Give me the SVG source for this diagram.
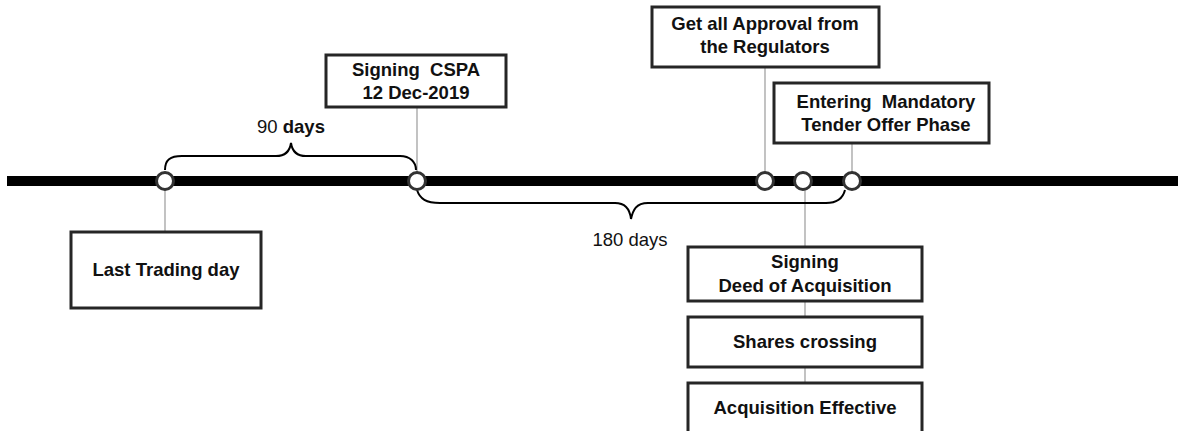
<svg xmlns="http://www.w3.org/2000/svg" width="1178" height="431" viewBox="0 0 1178 431">
<style>
.box{fill:#fff;stroke:#262626;stroke-width:3}
.lbl{font-family:"Liberation Sans",Arial,sans-serif;font-size:18.5px;font-weight:bold;fill:#111;text-anchor:middle}
.reg{font-family:"Liberation Sans",Arial,sans-serif;font-size:18.5px;fill:#111;text-anchor:middle}
.conn{stroke:#9a9a9a;stroke-width:1.2;fill:none}
.brace{stroke:#000;stroke-width:2;fill:none}
.dot{fill:#fff;stroke:#333;stroke-width:3}
</style>
<rect width="1178" height="431" fill="#fff"/>
<g id="connectors">
<line class="conn" x1="165" y1="190" x2="165" y2="232"/>
<line class="conn" x1="417" y1="107" x2="417" y2="172"/>
<line class="conn" x1="765" y1="67" x2="765" y2="172"/>
<line class="conn" x1="852" y1="143" x2="852" y2="172"/>
<line class="conn" x1="805" y1="190" x2="805" y2="247"/>
<line class="conn" x1="805" y1="301" x2="805" y2="317"/>
<line class="conn" x1="805" y1="367" x2="805" y2="383"/>
<path class="brace" d="M165,170 C165,160 170,156 182,156 L276,156 C286,156 290,150 291,143 C292,150 296,156 306,156 L400,156 C410,156 416,162 416,170"/>
<path class="brace" d="M417,190 C420,199 426,203 440,203 L615,203 C626,203 630,210 631,219 C633,210 636,203 648,203 L826,203 C838,203 843,198 845,190"/>
</g>
<rect id="timeline" x="7" y="176" width="1171" height="10" fill="#000"/>
<g id="dots">
<circle class="dot" cx="165" cy="181" r="8.5"/>
<circle class="dot" cx="417" cy="181" r="8.5"/>
<circle class="dot" cx="765" cy="181" r="8.5"/>
<circle class="dot" cx="803" cy="181" r="8.5"/>
<circle class="dot" cx="852" cy="181" r="8.5"/>
</g>
<g id="span90"><text class="reg" x="291" y="133">90 <tspan font-weight="bold">days</tspan></text></g>
<g id="span180"><text class="reg" x="630" y="246">180 days</text></g>
<g id="last-trading">
<rect class="box" x="71" y="232" width="190" height="76"/>
<text class="lbl" x="166" y="276">Last Trading day</text>
</g>
<g id="signing-cspa">
<rect class="box" x="326" y="55" width="180" height="52"/>
<text class="lbl" x="416" y="76" xml:space="preserve">Signing  CSPA</text>
<text class="lbl" x="416" y="99">12 Dec-2019</text>
</g>
<g id="approval">
<rect class="box" x="652" y="7" width="227" height="60"/>
<text class="lbl" x="765" y="30">Get all Approval from</text>
<text class="lbl" x="765" y="53">the Regulators</text>
</g>
<g id="mandatory">
<rect class="box" x="774" y="83" width="215" height="60"/>
<text class="lbl" x="886" y="108" xml:space="preserve">Entering  Mandatory</text>
<text class="lbl" x="886" y="131">Tender Offer Phase</text>
</g>
<g id="deed">
<rect class="box" x="688" y="247" width="234" height="54"/>
<text class="lbl" x="805" y="268">Signing</text>
<text class="lbl" x="805" y="292">Deed of Acquisition</text>
</g>
<g id="shares">
<rect class="box" x="688" y="317" width="234" height="50"/>
<text class="lbl" x="805" y="348">Shares crossing</text>
</g>
<g id="effective">
<rect class="box" x="688" y="383" width="234" height="60"/>
<text class="lbl" x="805" y="414">Acquisition Effective</text>
</g>
</svg>
